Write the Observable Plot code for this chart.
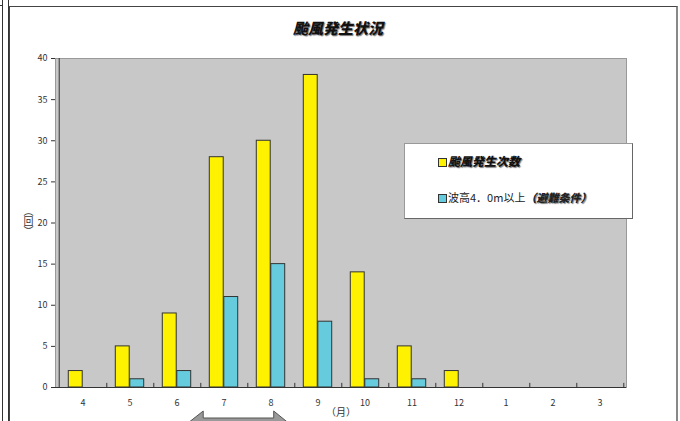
<!DOCTYPE html>
<html>
<head>
<meta charset="utf-8">
<script src="https://cdn.jsdelivr.net/npm/d3@7"></script>
<script src="https://cdn.jsdelivr.net/npm/@observablehq/plot@0.6"></script>
<style>
  html, body { margin: 0; padding: 0; background: #fff; }
  body { width: 680px; height: 421px; position: relative; overflow: hidden;
         font-family: "Noto Sans CJK JP", "DejaVu Sans", sans-serif; }
  .abs { position: absolute; }
  #chart { position: absolute; left: 0; top: 0; }
  .bi { font-weight: 900; font-style: italic; text-shadow: 1px 1px 1px #777; letter-spacing: 0; }
</style>
</head>
<body>
<div class="abs" style="left:2px;top:0;width:1px;height:421px;background:#333"></div>
<div class="abs" style="left:8px;top:0;width:1px;height:421px;background:#333"></div>
<div class="abs" style="left:0;top:5px;width:3px;height:1px;background:#333"></div>
<div class="abs" style="left:9px;top:6px;width:666px;height:430px;border-top:1px solid #444;border-left:1px solid #444;border-right:2px solid #888;"></div>
<div id="chart"></div>
<div class="abs bi" id="title" style="left:0;width:676px;top:17px;text-align:center;font-size:15px;color:#111;">颱風発生状況</div>
<div class="abs" id="ylab" style="left:21px;top:206px;font-size:10px;color:#333;writing-mode:vertical-rl;">（回）</div>
<div class="abs" id="xlab" style="left:326px;top:404px;font-size:10px;color:#333;">（月）</div>
<div class="abs" id="legend" style="left:404px;top:143px;width:227px;height:74px;background:#fff;border:1px solid #999;border-right:1px solid #666;border-bottom:1px solid #666;">
  <div class="abs" style="left:33px;top:14px;width:7px;height:7px;background:#FFF200;border:1px solid #333;"></div>
  <div class="abs bi" style="left:43px;top:8px;font-size:12px;color:#111;">颱風発生次数</div>
  <div class="abs" style="left:33px;top:50px;width:7px;height:7px;background:#66CCDD;border:1px solid #333;"></div>
  <div class="abs" style="left:43px;top:45px;font-size:11px;color:#222;white-space:nowrap;">波高4．0m以上<span class="bi">（避難条件）</span></div>
</div>
<script>
const months = ["4","5","6","7","8","9","10","11","12","1","2","3"];
const typhoonCount = [2, 5, 9, 28, 30, 38, 14, 5, 2, 0, 0, 0];
const highWaveCount = [0, 1, 2, 11, 15, 8, 1, 1, 0, 0, 0, 0];
const yTicks = [0, 5, 10, 15, 20, 25, 30, 35, 40];

const W = 680, H = 421, mL = 55, mR = 54, mT = 58, mB = 34;
const bw = (W - mL - mR) / months.length;
const half = bw / 2;
const barW = 14.5;

const rowsA = months.map((m, i) => ({month: m, value: typhoonCount[i]}));
const rowsB = months.map((m, i) => ({month: m, value: highWaveCount[i]}));

const chart = Plot.plot({
  width: W, height: H,
  marginLeft: mL, marginRight: mR, marginTop: mT, marginBottom: mB,
  style: {fontFamily: "'Noto Sans CJK JP', 'DejaVu Sans', sans-serif", fontSize: "9px", color: "#333", background: "transparent"},
  x: {domain: months, padding: 0, label: null, tickSize: 0, tickPadding: 12},
  y: {domain: [0, 40], ticks: yTicks, label: null, tickSize: 4, tickPadding: 4},
  marks: [
    Plot.frame({fill: "#C8C8C8", stroke: "#999"}),
    Plot.barY(rowsA.filter(d => d.value > 0), {x: "month", y: "value", fill: "#FFF200", stroke: "#333", strokeWidth: 1,
      insetLeft: half - barW, insetRight: half}),
    Plot.barY(rowsB.filter(d => d.value > 0), {x: "month", y: "value", fill: "#66CCDD", stroke: "#333", strokeWidth: 1,
      insetLeft: half, insetRight: half - barW}),
    Plot.ruleX(months, {x: d => d, y1: 0, y2: 0.5, dx: half, stroke: "#333"}),
    Plot.ruleY([0], {stroke: "#333"}),
    Plot.ruleX([months[0]], {dx: -half, stroke: "#333"})
  ]
});
document.getElementById("chart").appendChild(chart);

// annotation arrow spanning July–September, positioned with the plot's x scale
const xs = chart.scale("x");
const x7 = xs.apply("7");
const x0 = x7 - half;
const pts = [[x0 + 8, 426], [x0 + 27, 411], [x0 + 27, 418], [x0 + 97.5, 418], [x0 + 97.5, 411], [x0 + 116, 426]];
d3.select(chart).append("path")
  .attr("d", "M" + pts.map(p => p.join(",")).join("L") + "Z")
  .attr("fill", "#999").attr("stroke", "#555").attr("stroke-width", 1);
</script>
</body>
</html>
